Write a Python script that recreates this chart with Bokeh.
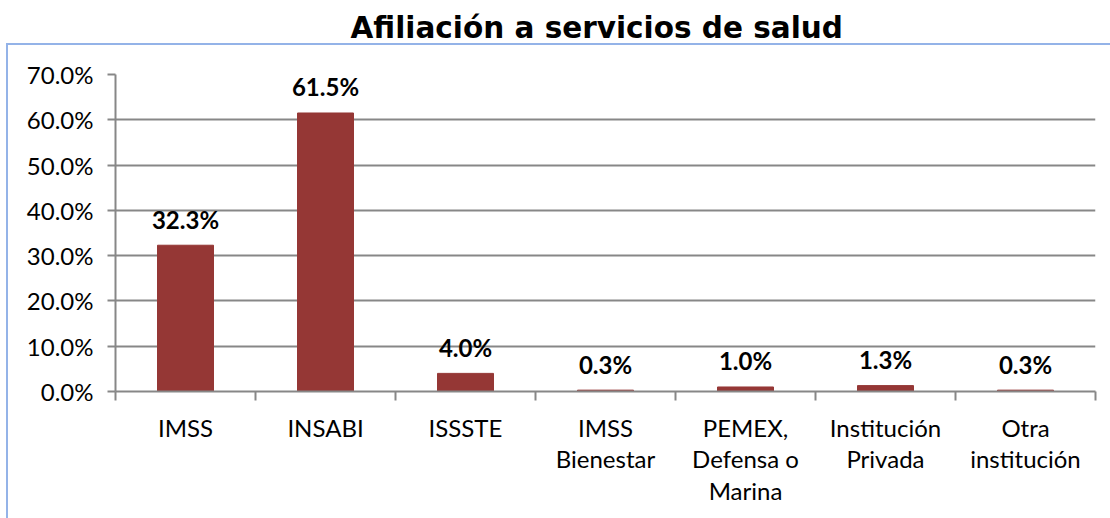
from bokeh.plotting import figure
from bokeh.models import FixedTicker, NumeralTickFormatter, Range1d, ColumnDataSource, Title
from bokeh.core.properties import value
from bokeh.embed import file_html
from bokeh.resources import INLINE

categories = ["IMSS", "INSABI", "ISSSTE", "IMSS\nBienestar", "PEMEX,\nDefensa o\nMarina",
              "Institución\nPrivada", "Otra\ninstitución"]
shares = [0.323, 0.615, 0.040, 0.003, 0.010, 0.013, 0.003]
y_ticks = [0.0, 0.1, 0.2, 0.3, 0.4, 0.5, 0.6, 0.7]
title_text = "Afiliación a servicios de salud"

n = len(categories)
centers = [i + 0.5 for i in range(n)]
bounds = list(range(n + 1))

src = ColumnDataSource(dict(x=centers, top=shares,
                            lab=[f"{v*100:.1f}%" for v in shares]))

blue = "#94b3e8"
border_css = {
    "background-image": f"linear-gradient({blue},{blue}), linear-gradient({blue},{blue})",
    "background-size": "2px 600px, 1200px 2px",
    "background-position": "6px 43px, 6px 43px",
    "background-repeat": "no-repeat",
    "background-color": "white",
}

p = figure(width=1110, height=518, output_backend="svg", toolbar_location=None,
           x_range=Range1d(0, n), y_range=Range1d(0, 0.7),
           min_border_left=115, min_border_right=15, min_border_top=74, min_border_bottom=127,
           title=None, styles=border_css)
p.outline_line_color = None
p.background_fill_color = "white"
p.border_fill_color = None

# spacer between the frame and the title
p.add_layout(Title(text=" ", text_font_size="2px", standoff=26), "above")
p.add_layout(Title(text=title_text, align="left", offset=235, standoff=0,
                   text_font="DejaVu Sans", text_font_style="bold",
                   text_font_size="29.5px", text_color="#000000"), "above")

p.vbar(x="x", top="top", width=0.4, color="#953735", source=src)
p.text(x="x", y="top", text="lab", source=src, text_font=value("Lato"),
       text_font_style="bold", text_font_size="24px", text_align="center",
       text_baseline="middle", y_offset=-26, text_color="#000000")

ya = p.yaxis[0]
ya.ticker = FixedTicker(ticks=y_ticks)
ya.formatter = NumeralTickFormatter(format="0.0%")
ya.major_label_text_font = "Lato"
ya.major_label_text_font_size = "24px"
ya.major_label_text_color = "#000000"
ya.major_tick_in = 0
ya.major_tick_out = 8
ya.minor_tick_line_color = None
ya.axis_line_color = "#878787"
ya.axis_line_width = 2
ya.major_tick_line_color = "#878787"
ya.major_tick_line_width = 2
ya.major_label_standoff = 14

xa = p.xaxis[0]
xa.ticker = FixedTicker(ticks=centers, minor_ticks=bounds)
xa.major_label_overrides = {c: lab for c, lab in zip(centers, categories)}
xa.major_label_text_font = "Lato"
xa.major_label_text_font_size = "24px"
xa.major_label_text_color = "#000000"
xa.major_label_text_line_height = 1.1
xa.major_tick_in = 0
xa.major_tick_out = 0
xa.minor_tick_in = 0
xa.minor_tick_out = 9
xa.minor_tick_line_color = "#878787"
xa.minor_tick_line_width = 2
xa.axis_line_color = "#878787"
xa.axis_line_width = 2
xa.major_label_standoff = 12

p.xgrid.grid_line_color = None
p.ygrid.ticker = FixedTicker(ticks=y_ticks)
p.ygrid.grid_line_color = "#878787"
p.ygrid.grid_line_width = 2

open("out.html", "w").write(file_html(p, INLINE))
